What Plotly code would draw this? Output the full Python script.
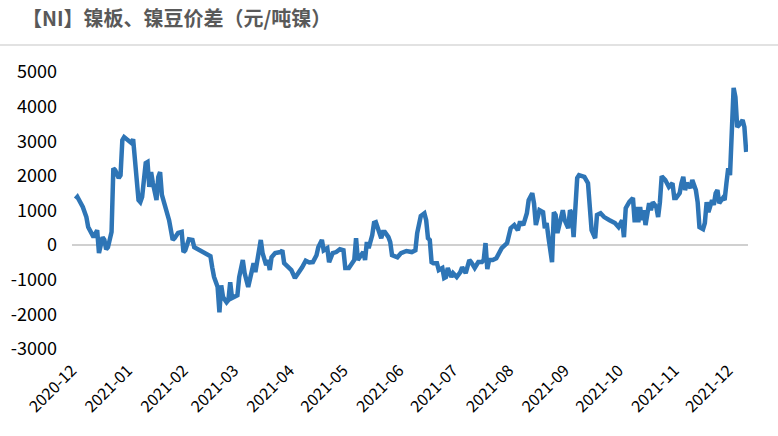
import plotly.graph_objects as go

dates = [
    "2020-12-03", "2020-12-04", "2020-12-07", "2020-12-09", "2020-12-10", "2020-12-12", "2020-12-13",
    "2020-12-15", "2020-12-16", "2020-12-18", "2020-12-19", "2020-12-20", "2020-12-21", "2020-12-23",
    "2020-12-24", "2020-12-25", "2020-12-27", "2020-12-28", "2020-12-29", "2020-12-30",
    "2021-01-01", "2021-01-03", "2021-01-04", "2021-01-06", "2021-01-07", "2021-01-08", "2021-01-09",
    "2021-01-11", "2021-01-12", "2021-01-13", "2021-01-14", "2021-01-15", "2021-01-17", "2021-01-18",
    "2021-01-19", "2021-01-20", "2021-01-22", "2021-01-24", "2021-01-26", "2021-01-27", "2021-01-29",
    "2021-01-31",
    "2021-02-01", "2021-02-02", "2021-02-04", "2021-02-06", "2021-02-07", "2021-02-10", "2021-02-13",
    "2021-02-16", "2021-02-17", "2021-02-18", "2021-02-20", "2021-02-21", "2021-02-22", "2021-02-23",
    "2021-02-25", "2021-02-26", "2021-02-27", "2021-02-28",
    "2021-03-03", "2021-03-04", "2021-03-06", "2021-03-07", "2021-03-09", "2021-03-10", "2021-03-12",
    "2021-03-13", "2021-03-15", "2021-03-16", "2021-03-17", "2021-03-19", "2021-03-20", "2021-03-21",
    "2021-03-22", "2021-03-24", "2021-03-27", "2021-03-28", "2021-03-29", "2021-03-31",
    "2021-04-02", "2021-04-04", "2021-04-06", "2021-04-08", "2021-04-10", "2021-04-12", "2021-04-14",
    "2021-04-16", "2021-04-17", "2021-04-19", "2021-04-20", "2021-04-22", "2021-04-23", "2021-04-25",
    "2021-04-27", "2021-04-29",
    "2021-05-01", "2021-05-02", "2021-05-04", "2021-05-06", "2021-05-07", "2021-05-08", "2021-05-09",
    "2021-05-12", "2021-05-13", "2021-05-14", "2021-05-15", "2021-05-17", "2021-05-18", "2021-05-19",
    "2021-05-20", "2021-05-22", "2021-05-23", "2021-05-24", "2021-05-26", "2021-05-27", "2021-05-28",
    "2021-05-31",
    "2021-06-02", "2021-06-05", "2021-06-08", "2021-06-10", "2021-06-11", "2021-06-12", "2021-06-13",
    "2021-06-15", "2021-06-16", "2021-06-17", "2021-06-18", "2021-06-19", "2021-06-20", "2021-06-22",
    "2021-06-23", "2021-06-25", "2021-06-26", "2021-06-27", "2021-06-28", "2021-06-30",
    "2021-07-01", "2021-07-03", "2021-07-05", "2021-07-06", "2021-07-08", "2021-07-10", "2021-07-11",
    "2021-07-13", "2021-07-15", "2021-07-17", "2021-07-18", "2021-07-19", "2021-07-20", "2021-07-21",
    "2021-07-23", "2021-07-25", "2021-07-27", "2021-07-28", "2021-07-31",
    "2021-08-01", "2021-08-02", "2021-08-04", "2021-08-06", "2021-08-07", "2021-08-08", "2021-08-09",
    "2021-08-11", "2021-08-12", "2021-08-14", "2021-08-15", "2021-08-16", "2021-08-18", "2021-08-20",
    "2021-08-21", "2021-08-22", "2021-08-23", "2021-08-25", "2021-08-26", "2021-08-27", "2021-08-28",
    "2021-08-30", "2021-08-31",
    "2021-09-01", "2021-09-03", "2021-09-04", "2021-09-05", "2021-09-06", "2021-09-07", "2021-09-08",
    "2021-09-09", "2021-09-12", "2021-09-14", "2021-09-15", "2021-09-16", "2021-09-18", "2021-09-19",
    "2021-09-21", "2021-09-23", "2021-09-26", "2021-09-29",
    "2021-10-01", "2021-10-03", "2021-10-04", "2021-10-05", "2021-10-07", "2021-10-09", "2021-10-10",
    "2021-10-11", "2021-10-12", "2021-10-13", "2021-10-14", "2021-10-15", "2021-10-16", "2021-10-18",
    "2021-10-19", "2021-10-20", "2021-10-22", "2021-10-23", "2021-10-24", "2021-10-25", "2021-10-27",
    "2021-10-28", "2021-10-29", "2021-10-31",
    "2021-11-01", "2021-11-02", "2021-11-04", "2021-11-05", "2021-11-06", "2021-11-07", "2021-11-08",
    "2021-11-10", "2021-11-11", "2021-11-13", "2021-11-14", "2021-11-15", "2021-11-17", "2021-11-18",
    "2021-11-19", "2021-11-20", "2021-11-22", "2021-11-23", "2021-11-24", "2021-11-25", "2021-11-26",
    "2021-11-28", "2021-11-29", "2021-11-30",
    "2021-12-01", "2021-12-02", "2021-12-03", "2021-12-04", "2021-12-05", "2021-12-06", "2021-12-07",
    "2021-12-09", "2021-12-10", "2021-12-11",
]

spread = [
    1330, 1390, 1100, 810, 520, 350, 230,
    430, -230, 230, 150, -120, -60, 380,
    2220, 2170, 1940, 2020, 3030, 3120,
    3030, 2950, 3060, 1790, 1300, 1240, 1390,
    2370, 2400, 1680, 2110, 1790, 1300, 1970,
    2110, 1450, 1100, 720, 150, 200, 350,
    380,
    -200, -150, 170, 150, -60, -150, -230,
    -320, -640, -920, -1210, -1940, -1160, -1500,
    -1650, -1590, -1070, -1530,
    -1450, -920, -430, -810, -1210, -950, -520,
    -780, -60, 150, -230, -580, -430, -720,
    -350, -230, -200, -150, -520, -640,
    -720, -950, -810, -640, -450, -500, -490,
    -290, -60, 150, -150, -90, -490, -230,
    -200, -120,
    -150, -660, -660, -520, -430, 200, -430,
    -200, -430, 90, -90, 290, 640, 660,
    490, 200, 380, 380, 230, 90, -290,
    -350,
    -230, -170, -200, -150, 350, 640, 840,
    920, 720, 200, 150, -490, -520, -520,
    -720, -660, -950, -920, -660, -920,
    -810, -920, -780, -640, -810, -430, -490,
    -660, -490, -490, -430, 60, -690, -430,
    -430, -380, -200, -90, 60,
    230, 490, 580, 430, 640, 640, 580,
    920, 1300, 1500, 1200, 580, 1010, 950,
    490, 640, 230, -490, 950, 870, 350,
    810, 1010,
    720, 490, 1010, 920, 230, 920, 1940,
    2020, 1970, 1790, 1100, 430, 200, 870,
    920, 810, 720, 640,
    520, 720, 230, 1070, 1250, 1360, 660,
    1100, 660, 1100, 720, 1010, 580, 1210,
    1010, 1240, 1100, 810, 1240, 1990, 1880,
    1730, 1680, 1790,
    1360, 1360, 1500, 1790, 1970, 1590, 1790,
    1650, 1880, 1590, 1240, 520, 460, 640,
    1240, 950, 1300, 1160, 1500, 1590, 1210,
    1360, 1300, 1790,
    2220, 2020, 3320, 4540, 4280, 3410, 3470,
    3610, 3410, 2690,
]

title_text = "【NI】镍板、镍豆价差（元/吨镍）"
y_ticks = [5000, 4000, 3000, 2000, 1000, 0, -1000, -2000, -3000]

W, H = 778, 436
ML, MR, MT, MB = 72, 30, 72, 87

fig = go.Figure()
fig.add_trace(go.Scatter(
    x=dates, y=spread, mode="lines",
    line=dict(color="#2E75B6", width=4.5),
    hoverinfo="x+y", showlegend=False,
))

fig.update_layout(
    width=W, height=H,
    margin=dict(l=ML, r=MR, t=MT, b=MB),
    paper_bgcolor="white", plot_bgcolor="white",
    font=dict(family="Noto Sans CJK SC, Noto Sans, sans-serif", color="#000000"),
    title=dict(
        text="<b>" + title_text + "</b>",
        x=22 / W, xanchor="left", y=1 - 19 / H, yanchor="middle",
        font=dict(family="Noto Sans CJK SC, sans-serif", size=20, color="#595959"),
    ),
    xaxis=dict(
        type="date",
        range=["2020-12-01", "2021-12-12"],
        tickmode="linear", tick0="2020-12-01", dtick="M1",
        tickformat="%Y-%m", tickangle=-45,
        tickfont=dict(family="Noto Sans CJK SC, sans-serif", size=16, color="#000000"),
        ticklabelstandoff=8,
        showgrid=False, showline=False, zeroline=False, ticks="",
    ),
    yaxis=dict(
        range=[-3000, 5000],
        tickvals=y_ticks,
        ticktext=[str(v) for v in y_ticks],
        tickfont=dict(family="Noto Sans CJK SC, sans-serif", size=18, color="#000000"),
        ticklabelstandoff=14,
        showgrid=False, showline=False,
        zeroline=True, zerolinecolor="#d0d0d0", zerolinewidth=1.5,
        ticks="", ticklen=0,
    ),
)

pw = W - ML - MR
ph = H - MT - MB
fig.add_shape(
    type="line", xref="paper", yref="paper",
    x0=-ML / pw, x1=(W - ML) / pw,
    y0=1 + (MT - 45) / ph, y1=1 + (MT - 45) / ph,
    line=dict(color="#d9d9d9", width=1.5),
)

fig.write_html("out.html")
